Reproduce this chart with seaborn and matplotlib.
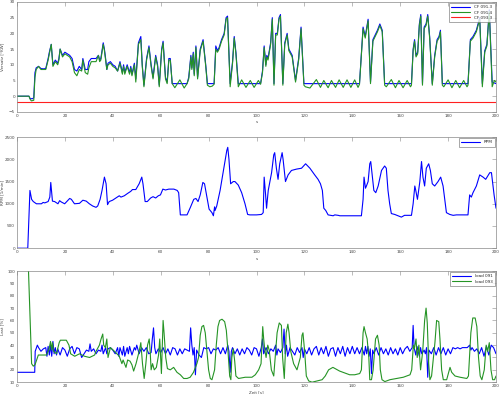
import matplotlib
matplotlib.use("Agg")
import matplotlib.pyplot as plt
import seaborn as sns
import pandas as pd

# ---------------- data: (time [s], value) pairs ----------------
cf913 = [(0, 0), (5, 0), (5.5, -0.8), (6.5, -0.8), (7, -0.5), (7.5, 7.5), (8, 9), (9, 9.5), (10, 8.8), (11, 8.7),
         (12, 8.8), (13, 12), (13.5, 14), (14.3, 16.5), (15, 10), (16, 11.5), (17, 10.5), (17.5, 12), (18, 15),
         (19, 13), (20, 14), (21, 13.5), (22, 13), (23, 12), (24, 8.5), (25, 8), (26, 9.5), (27, 8.5), (27.5, 12),
         (28.5, 8.5), (29.5, 8.5), (30, 11), (31, 12), (33, 12), (33.5, 12.5), (34, 13), (34.5, 11.5), (35, 12),
         (36, 17), (36.5, 15), (37, 12), (37.5, 8.5), (38, 10.5), (39, 11), (40, 10), (41, 9.5), (42, 8), (43, 11),
         (44, 7.5), (44.5, 10), (45, 7.5), (46, 10), (47, 7.5), (47.5, 9.5), (48, 7), (49, 10.5), (49.6, 5.5),
         (50.7, 17), (51.7, 19), (52.3, 10), (53, 3.5), (54.1, 12), (55.1, 16), (56, 10), (56.8, 6), (57.9, 13),
         (58.7, 10), (59.4, 3.5), (60.4, 15), (61, 17.5), (62, 6), (62.7, 4.5), (63.4, 12), (64, 12), (64.8, 4),
         (71, 4), (71.7, 6), (72.6, 13), (73, 9), (73.6, 14), (74, 7), (74.7, 16), (75.4, 6), (76.5, 15),
         (77.7, 18), (78.8, 10), (79.5, 4), (81, 4), (82.3, 4), (83, 16), (83.7, 14.5), (84.4, 15.5), (85.4, 18),
         (86.5, 20), (87.3, 25), (87.9, 25.5), (89, 4), (90, 11), (90.7, 19), (91.4, 14), (92.4, 4), (101.7, 4),
         (102.5, 8), (103.2, 16), (103.9, 10), (104.3, 13), (104.8, 12), (105.9, 17), (106.6, 25), (107.3, 4),
         (108, 20), (108.7, 20), (109.4, 25), (110, 26), (111, 4), (111.8, 17), (112.8, 20), (113.5, 15),
         (114.9, 13), (116.3, 5), (117.6, 12), (118.6, 22), (119.8, 4), (143, 4), (144.5, 22), (145.4, 19),
         (146.6, 24.5), (147.6, 4.5), (148.6, 18), (150.5, 21), (151.5, 23), (152.5, 21), (153.5, 4), (164.7, 4),
         (165.4, 15), (166, 18), (166.6, 13), (167.3, 14), (168, 23), (168.6, 26), (169.3, 4), (170, 22),
         (170.8, 23), (171.5, 26), (172.3, 19), (173.4, 4), (174.4, 13), (175.4, 18), (176.2, 19), (176.8, 21),
         (177.6, 4), (188.3, 4), (189.3, 18), (190.4, 19), (191.8, 21), (193.2, 25), (194.3, 4), (195.3, 14.5),
         (196.2, 16.5), (197.2, 27.5), (198.4, 4.5), (200, 4)]

cf914 = [(0, 0), (5, 0), (5.5, -1), (6, -1.5), (7, -1.3), (7.5, 6), (8, 8.5), (9, 9.5), (10, 8.5), (11, 8.5),
         (12, 8.5), (13, 11.5), (13.5, 13.5), (14.3, 16.5), (15, 9.5), (16, 11), (17, 10), (17.5, 11.5), (18, 15),
         (19, 12.5), (20, 13.5), (21, 13), (22, 12.5), (23, 11), (24, 7.5), (25, 6.5), (26, 8.5), (27, 8),
         (27.5, 11.5), (28.5, 7.5), (29.5, 7), (30, 9), (31, 11), (33, 11), (33.5, 12), (34, 13), (34.5, 11),
         (35, 11.5), (36, 16.5), (36.5, 14.5), (37, 11.5), (37.5, 8.5), (38, 10), (39, 10.5), (40, 9.5), (41, 9),
         (42, 8), (43, 10.5), (44, 7), (44.5, 9.5), (45, 7), (46, 9.5), (47, 7), (47.5, 9), (48, 6.5), (49, 10),
         (49.6, 4.5), (50.7, 16.5), (51.7, 18), (52.3, 9.5), (53, 3), (54.1, 11.5), (55.1, 15.5), (56, 9.5),
         (56.8, 5.5), (57.9, 12.5), (58.7, 9.5), (59.4, 3), (60.4, 14.5), (61, 17), (62, 5.5), (62.7, 4),
         (63.4, 11.5), (64, 11.5), (64.8, 4), (65.9, 2.7), (68, 5.2), (69.8, 2.6), (71, 4), (71.7, 5.5),
         (72.6, 12.5), (73, 8.5), (73.6, 13.5), (74, 6.5), (74.7, 15.5), (75.4, 5.5), (76.5, 14.5), (77.7, 17.5),
         (78.8, 9.5), (79.5, 3.5), (80.5, 3), (81.5, 3.2), (82.3, 3.8), (83, 15), (83.7, 14), (84.4, 15),
         (85.4, 17.5), (86.5, 19.5), (87.3, 24.5), (87.9, 25), (89, 3), (90, 10.5), (90.7, 18.5), (91.4, 13.5),
         (92.4, 3), (93.8, 5.2), (95.6, 2.8), (97.4, 5), (99, 2.8), (100.8, 5), (101.7, 3.8), (102.5, 7.5),
         (103.2, 15.5), (103.9, 9.5), (104.3, 12.5), (104.8, 11.5), (105.9, 16.5), (106.6, 24.5), (107.3, 3.5),
         (108, 19.5), (108.7, 19.5), (109.4, 24.5), (110, 25.5), (111, 3.5), (111.8, 16.5), (112.8, 19.5),
         (113.5, 14.5), (114.9, 12.5), (116.3, 4.5), (117.6, 11.5), (118.6, 21.5), (119.8, 3.5), (120.4, 3),
         (122.3, 2.6), (125, 5.3), (126.7, 2.8), (128.1, 5), (129.9, 2.7), (131.3, 5), (133, 2.8), (134.5, 5.2),
         (136.2, 2.8), (137.8, 5.2), (139.4, 2.8), (141, 5.2), (142.4, 2.8), (143, 3.8), (144.5, 21.5),
         (145.4, 18.5), (146.6, 24), (147.6, 4), (148.6, 17.5), (150.5, 20.5), (151.5, 22.5), (152.5, 20.5),
         (153.5, 3.5), (154.2, 3), (156.3, 5.3), (158, 2.7), (159.5, 5), (161.2, 2.7), (162.9, 5), (164.3, 3),
         (164.7, 3.5), (165.4, 14.5), (166, 17.5), (166.6, 12.5), (167.3, 13.5), (168, 22.5), (168.6, 25.5),
         (169.3, 3.5), (170, 21.5), (170.8, 22.5), (171.5, 25.5), (172.3, 18.5), (173.4, 3.5), (174.4, 12.5),
         (175.4, 17.5), (176.2, 18.5), (176.8, 20.5), (177.6, 3.5), (178.2, 3), (180, 5.2), (181.6, 2.7),
         (183.2, 5), (184.8, 2.7), (186.5, 5), (187.9, 3), (188.3, 3.5), (189.3, 17.5), (190.4, 18.5),
         (191.8, 20.5), (193.2, 24.5), (194.3, 3), (195.3, 14), (196.2, 16), (197.2, 27), (198.4, 3), (199.3, 5),
         (200, 4.5)]

cf933 = [(0, -2), (200, -2)]

rpm = [(0, 0), (4.5, 0), (5.4, 1300), (6.1, 1100), (6.8, 1050), (8.1, 1000), (10.2, 1000), (10.9, 1030),
       (11.6, 1020), (13, 1050), (13.7, 1150), (14.1, 1480), (14.8, 1060), (15.7, 1050), (17.1, 1000),
       (17.8, 1070), (18.5, 1040), (19.9, 1000), (22, 1120), (22.7, 1100), (24, 1000), (26.1, 1010), (27.5, 1080),
       (28.9, 1060), (30.2, 1000), (31.6, 950), (33, 920), (33.7, 950), (34.7, 1100), (35.5, 1300), (36.5, 1600),
       (37.2, 1450), (37.8, 980), (38.5, 1050), (39.9, 1080), (41.3, 1130), (42.7, 1180), (43.4, 1150),
       (44.8, 1180), (46.1, 1230), (47.5, 1280), (48.2, 1320), (49.6, 1320), (51, 1450), (52.1, 1600),
       (52.6, 1450), (53.5, 1050), (54.4, 1050), (55.8, 1130), (56.8, 1160), (57.9, 1130), (59, 1180),
       (59.9, 1200), (60.9, 1330), (62, 1310), (63.4, 1330), (65.5, 1330), (66.9, 1300), (67.5, 1250), (68.2, 750),
       (71, 750), (72.4, 920), (73.8, 1100), (74.7, 1120), (75.6, 1050), (76.5, 1200), (77.6, 1480), (78.3, 1450),
       (79.3, 1150), (80.2, 880), (81.4, 800), (82, 730), (82.5, 930), (82.7, 850), (83.4, 950), (84.8, 1300),
       (86.2, 1750), (87.6, 2200), (88, 2270), (88.5, 2000), (89.2, 1450), (90.3, 1500), (91, 1500), (92.4, 1420),
       (93.8, 1250), (95.2, 1000), (96.3, 760), (97.2, 750), (100, 750), (102.1, 760), (102.8, 800), (103.2, 1600),
       (103.8, 1200), (104.2, 900), (104.9, 1300), (106.3, 1700), (107.2, 2100), (107.6, 2150), (108.3, 1800),
       (109, 1550), (109.7, 1900), (110.7, 2150), (111.1, 2000), (112.1, 1500), (113.2, 1650), (114.6, 1750),
       (116.7, 1780), (118.8, 1800), (120.5, 1900), (122.3, 1800), (124.3, 1650), (125.7, 1550), (126.7, 1450),
       (127.5, 1300), (128.1, 900), (128.9, 850), (129.9, 750), (132, 730), (132.7, 750), (134.1, 740),
       (134.8, 730), (143.8, 730), (144.5, 1100), (144.9, 1600), (145.5, 1350), (145.9, 1400), (146.6, 1500),
       (147.3, 1900), (147.7, 1950), (148.4, 1600), (149, 1300), (149.8, 1250), (150.8, 1400), (152.2, 1750),
       (153.5, 1850), (154.2, 1800), (154.9, 1300), (155.6, 1000), (156.3, 780), (157.7, 760), (160.5, 700),
       (161.8, 740), (164.7, 740), (165.4, 1000), (166.1, 1400), (166.5, 1300), (167.2, 1100), (168.2, 1500),
       (168.9, 1950), (169.5, 1600), (170.2, 1400), (170.9, 1800), (171.9, 1900), (172.6, 1750), (173.4, 1450),
       (174.4, 1400), (175.8, 1500), (176.9, 1600), (177.9, 1400), (179.3, 800), (180.7, 760), (182.1, 740),
       (183.5, 750), (188.3, 750), (189, 1200), (189.7, 1150), (190.4, 1250), (191.8, 1400), (193.2, 1650),
       (194.6, 1600), (195.7, 1550), (197.4, 1700), (198.1, 1700), (199.2, 1200), (200, 900)]

load091 = [(0, 18), (7.4, 18), (7.6, 35), (8.5, 40), (9, 38), (10, 35), (11, 37), (12, 38), (12.5, 31), (13, 39),
           (13.5, 32), (14, 40), (14.5, 31), (15, 43), (15.5, 33), (16, 38), (16.5, 32), (17, 37), (18, 32),
           (19, 38), (20, 36), (21, 31), (22, 37), (23, 39), (24, 33), (25, 38), (26, 37), (27, 30), (28, 33),
           (29, 36), (30, 35), (30.5, 41), (31, 35), (32, 37), (33, 33), (34, 36), (35, 35), (35.5, 40), (36, 33),
           (37, 38), (37.5, 33), (38, 37), (39, 38), (40, 36), (41, 33), (42, 38), (42.5, 31), (43, 38), (44, 32),
           (44.5, 39), (45, 31), (46, 38), (46.5, 33), (47, 39), (48, 32), (49, 38), (49.5, 36), (50, 40), (51, 33),
           (52, 38), (53, 35), (54, 38), (55, 33), (56, 34), (56.5, 45), (57, 54), (57.5, 38), (58, 33), (59, 37),
           (60, 34), (61, 38), (62, 33), (63, 37), (64, 32), (65, 38), (66, 37), (67, 32), (68, 37), (69, 33),
           (70, 37), (71, 36), (72, 35), (72.5, 54), (73, 40), (73.5, 32), (74, 38), (74.5, 16), (75, 36), (76, 32),
           (77, 30), (78, 38), (79, 37), (80, 38), (81, 33), (82, 37), (83, 36), (84, 38), (85, 33), (86, 38),
           (87, 33), (88, 40), (88.5, 35), (89, 18), (89.5, 35), (90, 38), (91, 33), (92, 37), (93, 32), (94, 37),
           (95, 33), (96, 38), (97, 36), (98, 32), (99, 38), (100, 37), (101, 31), (102, 38), (102.5, 45), (103, 33),
           (104, 38), (105, 33), (106, 37), (107, 35), (108, 40), (108.5, 32), (109, 37), (110, 34), (111, 38),
           (111.5, 53), (112, 33), (112.5, 40), (113, 31), (114, 38), (115, 35), (116, 32), (117, 38), (118, 34),
           (119, 38), (119.5, 30), (120, 37), (121, 33), (122, 38), (123, 32), (124, 37), (125, 39), (126, 32),
           (127, 38), (128, 33), (129, 39), (130, 31), (131, 37), (132, 38), (133, 31), (134, 38), (135, 33),
           (136, 39), (137, 31), (138, 38), (139, 33), (140, 39), (141, 33), (142, 38), (143, 33), (144, 38),
           (145, 32), (145.5, 39), (146, 33), (146.5, 39), (147, 31), (147.5, 37), (148, 17), (148.5, 36), (149, 33),
           (150, 38), (151, 32), (152, 38), (153, 33), (154, 37), (155, 32), (156, 38), (157, 33), (158, 37),
           (159, 32), (160, 38), (161, 33), (162, 37), (163, 39), (164, 35), (165, 38), (165.4, 56), (165.8, 38),
           (166.5, 32), (167, 39), (168, 31), (168.5, 38), (169, 33), (170, 36), (170.5, 33), (171, 38),
           (171.5, 14), (172, 36), (173, 33), (174, 38), (175, 32), (176, 38), (177, 33), (178, 38), (179, 32),
           (180, 37), (181, 33), (182, 38), (183, 37), (184, 38), (185, 37), (186, 38), (187, 38), (188, 38),
           (189, 40), (189.5, 36), (190, 38), (191, 35), (192, 37), (193, 33), (194, 38), (195, 31), (196, 39),
           (197, 32), (198, 40), (199, 38), (200, 33)]

load093 = [(4.6, 110), (4.8, 100), (6.1, 25), (6.8, 23), (7.5, 24), (8.9, 32), (12.3, 32), (13.4, 37), (14, 43),
           (14.4, 36), (14.8, 42), (15.3, 35), (16.5, 33), (17.6, 42), (18.1, 44), (20.6, 44), (21.7, 40),
           (22.4, 33), (24.1, 31), (26.1, 33), (28.2, 31), (30.3, 30), (32.4, 32), (33, 35), (34.4, 40), (35.1, 45),
           (35.8, 49), (36.2, 40), (36.9, 38), (37.5, 45), (38, 30), (39, 38), (40.7, 35), (42.7, 31), (43.8, 25),
           (44.3, 28), (45.5, 22), (46.2, 28), (47.2, 27), (48, 24), (48.7, 19), (49.7, 25), (51, 35), (51.7, 42),
           (52.4, 25), (53.1, 13), (53.8, 25), (54.5, 40), (55.2, 45), (55.6, 35), (56, 20), (56.6, 25), (57.3, 20),
           (58.2, 22), (59.1, 32), (59.6, 45), (60.3, 17), (61, 60), (61.4, 50), (62.1, 30), (62.8, 21), (64, 20),
           (65.4, 22), (66.8, 18), (68.2, 16), (69.6, 13), (71, 13), (72.3, 14), (73.7, 18), (75.1, 25), (75.8, 30),
           (76.5, 48), (77.2, 55), (77.9, 56), (78.6, 50), (79.3, 35), (80, 20), (80.7, 13), (81.4, 12), (82.5, 20),
           (83.2, 40), (83.9, 55), (84.6, 60), (85.6, 61), (86.7, 59), (87.4, 52), (88.1, 35), (88.8, 15),
           (89.3, 12), (89.7, 30), (90.3, 37), (90.9, 27), (91.4, 15), (92.5, 13), (95.3, 14), (98.1, 14),
           (99.5, 16), (100.9, 20), (101.9, 25), (102.6, 55), (103, 45), (103.4, 37), (104, 30), (104.7, 40),
           (105.3, 36), (106.2, 20), (107.2, 15), (108.6, 50), (109.5, 58), (110.4, 56), (110.9, 30), (111.6, 13),
           (112.4, 50), (113.1, 57), (113.6, 50), (114.3, 35), (115.5, 25), (116.9, 20), (118.3, 30), (119, 48),
           (119.4, 50), (120.1, 35), (120.8, 15), (121.8, 11), (123.2, 10), (125.3, 11), (127.4, 12), (128.7, 15),
           (130.1, 20), (131.9, 22), (134.7, 19), (137.5, 17), (138.9, 16), (141, 16), (143.1, 17), (143.8, 20),
           (144.5, 50), (144.9, 55), (145.5, 50), (146.2, 45), (146.9, 30), (147.3, 12), (148, 12), (148.7, 20),
           (149.7, 45), (150.5, 48), (151.2, 40), (151.7, 20), (152.4, 12), (153.6, 10.5), (155.7, 12),
           (158.5, 13), (161.3, 14), (164.1, 16), (164.8, 20), (165.5, 40), (165.9, 37), (166.6, 45), (167.1, 30),
           (167.8, 40), (168.5, 20), (169.4, 35), (170.2, 60), (170.8, 70), (171.3, 58), (171.9, 25), (172.4, 12),
           (173.1, 15), (174.5, 42), (175.2, 60), (176.1, 59), (176.6, 45), (177.3, 20), (178, 12), (179.4, 12),
           (180.8, 22), (181.5, 18), (182.9, 15), (185, 14), (187.8, 13), (188.5, 15), (189.5, 50), (190.3, 62),
           (191.3, 62), (192, 55), (192.7, 30), (193.4, 15), (194.1, 12), (195.1, 20), (195.9, 40), (196.5, 35),
           (197.2, 42), (197.9, 20), (198.6, 12), (199.4, 12), (200, 15)]

x_ticks = [0, 20, 40, 60, 80, 100, 120, 140, 160, 180, 200]

# ---------------- plotting ----------------
sns.set_style("white")
plt.rcParams['font.family'] = ['DejaVu Sans']

fig = plt.figure(figsize=(5.0, 3.94), dpi=100)
ax1 = fig.add_axes([0.034, 0.716, 0.958, 0.279])
ax2 = fig.add_axes([0.034, 0.370, 0.958, 0.282])
ax3 = fig.add_axes([0.034, 0.030, 0.958, 0.282])

BLUE = (0, 0, 1)
GREEN = "#259425"
RED = "#ff2020"
LW = 0.8


def draw(ax, pairs, color, label):
    df = pd.DataFrame(pairs, columns=["t", "v"])
    sns.lineplot(data=df, x="t", y="v", ax=ax, color=color, linewidth=LW,
                 label=label, estimator=None, sort=True)


draw(ax1, cf913, BLUE, "CF 091.3")
draw(ax1, cf914, GREEN, "CF 091.4")
draw(ax1, cf933, RED, "CF 093.3")
draw(ax2, rpm, BLUE, "RPM")
draw(ax3, load091, BLUE, "load 091")
draw(ax3, load093, GREEN, "load 093")

ax1.set_ylim(-5, 30)
ax1.set_yticks(list(range(-5, 31, 5)))
ax2.set_ylim(0, 2500)
ax2.set_yticks(list(range(0, 2501, 500)))
ax3.set_ylim(10, 100)
ax3.set_yticks(list(range(10, 101, 10)))

ax1.set_ylabel("Versatz [°KW]")
ax2.set_ylabel("RPM [1/min]")
ax3.set_ylabel("Last [%]")
ax1.set_xlabel("s")
ax2.set_xlabel("s")
ax3.set_xlabel("Zeit [s]")

TXT = "#444444"
for ax in (ax1, ax2, ax3):
    ax.set_xlim(0, 200)
    ax.set_xticks(x_ticks)
    ax.tick_params(direction="in", length=3, width=0.4, top=True, right=True,
                   labelsize=3, pad=1.5, colors="#888888", labelcolor=TXT)
    for s in ax.spines.values():
        s.set_linewidth(0.5)
        s.set_color("#888888")
    ax.xaxis.label.set_size(3)
    ax.yaxis.label.set_size(3)
    ax.xaxis.label.set_color(TXT)
    ax.yaxis.label.set_color(TXT)
    ax.yaxis.set_label_coords(-0.026, 0.5)
    ax.xaxis.set_label_coords(0.5, -0.075)
    leg = ax.legend(loc="upper right", fontsize=3, frameon=True, fancybox=False,
                    borderpad=0.5, handlelength=4.5, labelspacing=0.3, handletextpad=1.0,
                    borderaxespad=0.3)
    leg.get_frame().set_edgecolor("#666666")
    leg.get_frame().set_linewidth(0.5)
    for line in leg.get_lines():
        line.set_linewidth(LW)

fig.savefig("out.png", dpi=100)
